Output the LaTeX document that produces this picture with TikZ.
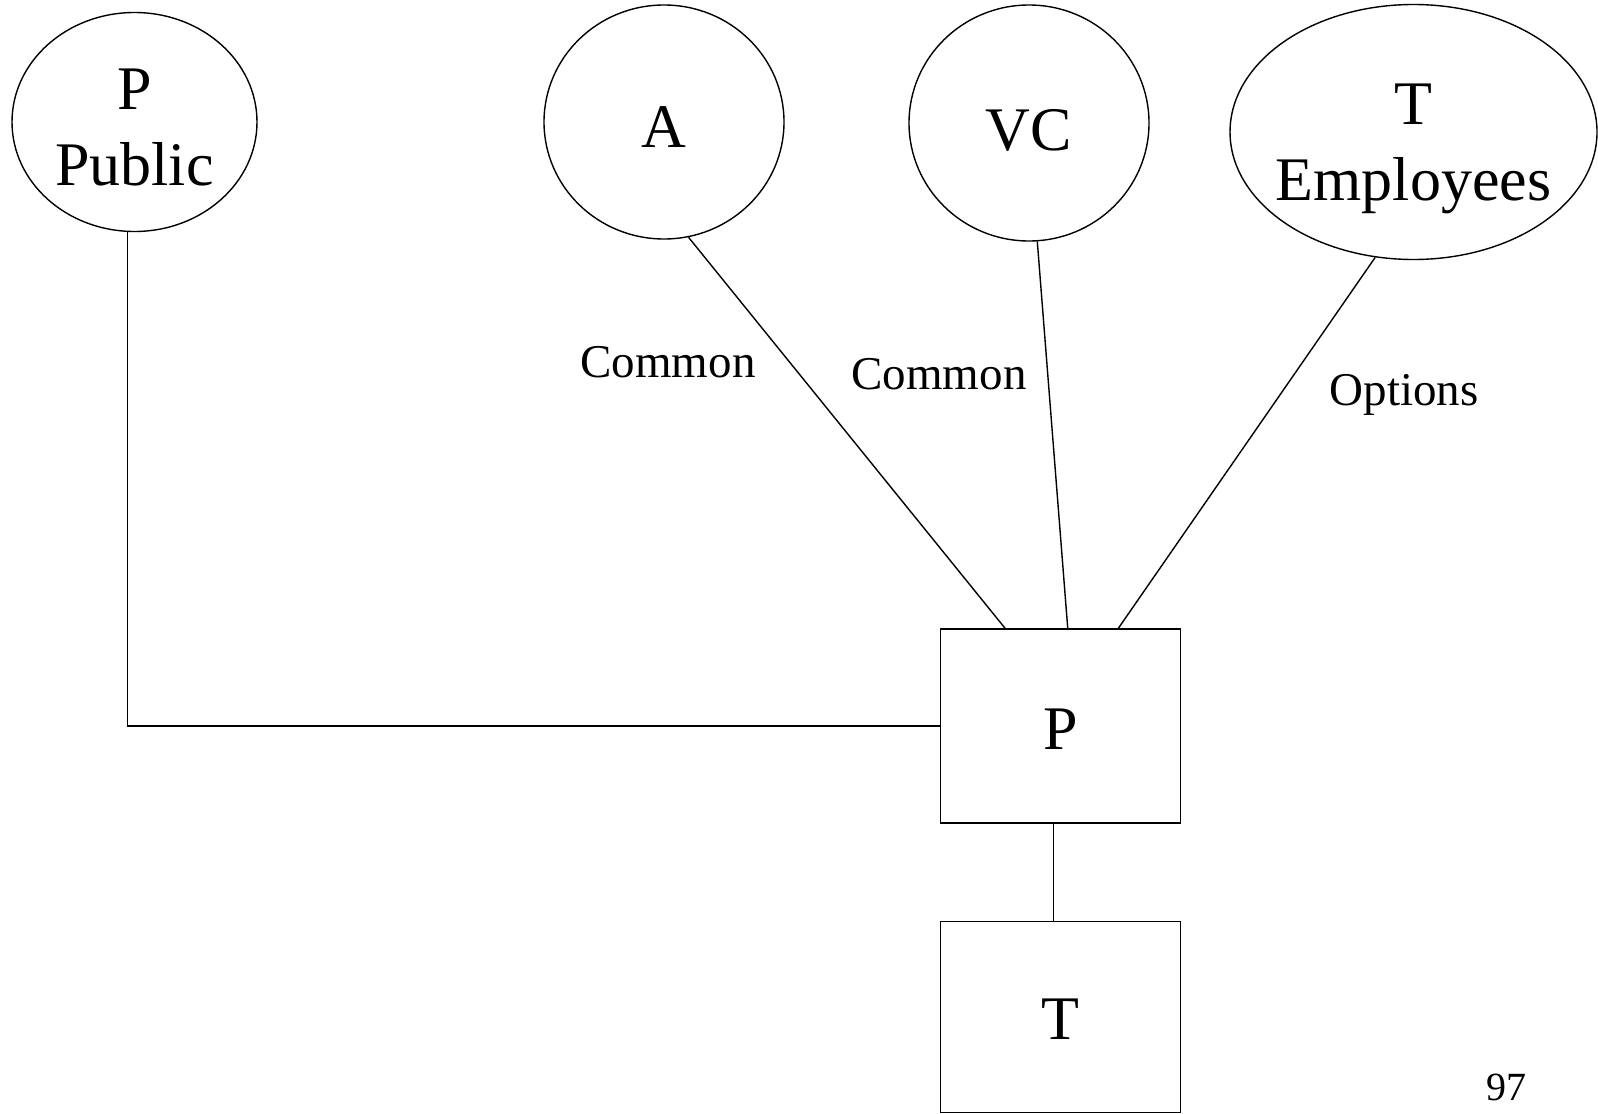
\documentclass[tikz,border=0pt]{standalone}
\usepackage{fontspec}
\setmainfont{Liberation Serif}
\usepackage{tikz}
\usetikzlibrary{shapes.geometric, positioning, calc}
\tikzset{
  party/.style={ellipse, draw, line width=0.7pt, inner sep=0pt,
                align=center, font=\fontsize{31}{38}\selectfont},
  unit/.style={rectangle, draw, line width=0.7pt, inner sep=0pt,
               minimum width=119.75pt, minimum height=97pt,
               font=\fontsize{31}{38}\selectfont},
  link/.style={line width=0.7pt},
  tag/.style={font=\fontsize{23.5}{28}\selectfont}
}

\begin{document}
\begin{tikzpicture}[x=0.5pt, y=-0.5pt]
  \useasboundingbox (0,0) rectangle (1598,1113);

  % parties on top
  \node[party, minimum width=122.5pt, minimum height=109.5pt]
    (pub) at (134.5,122) {\rule{0pt}{26pt}P\\Public};
  \node[party, minimum width=120pt, minimum height=117pt]
    (a) at (664,122) {\rule{0pt}{26pt}A};
  \node[party, minimum width=120pt, minimum height=118pt]
    (vc) at (1029,123) {\rule{0pt}{27.5pt}VC};
  \node[party, minimum width=183.5pt, minimum height=127.5pt, inner xsep=-8pt]
    (emp) at (1413.5,132) {\rule{0pt}{37pt}T\\Employees};

  % boxes
  \node[unit] (boxp) at (1060.5,726) {\rule{0pt}{23pt}P};
  \node[unit, minimum height=95.5pt, below=48.5pt of boxp] (boxt) {\rule{0pt}{23pt}T};

  % labels
  \node[tag] (lcom1) at (668,362) {Common};
  \node[tag] (lcom2) at (939,374) {Common};
  \node[tag] (lopt) at (1404,395) {Options};
  \node[font=\fontsize{20}{24}\selectfont, anchor=base] (pgnum) at (1506,1100) {97};

  % links
  \draw[link] ([xshift=-3.5pt]pub.south) |- (boxp.west);
  \draw[link] (a.-78) -- ($(boxp.north west)!0.27!(boxp.north east)$);
  \draw[link] (vc.-86) -- ($(boxp.north west)!0.53!(boxp.north east)$);
  \draw[link] (emp.-107) -- ($(boxp.north west)!0.74!(boxp.north east)$);
  \draw[link] ($(boxp.south west)!0.47!(boxp.south east)$)
    -- ($(boxt.north west)!0.47!(boxt.north east)$);

\end{tikzpicture}
\end{document}
